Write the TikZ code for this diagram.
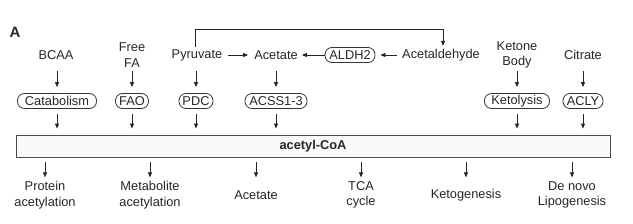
\documentclass[tikz,border=0pt]{standalone}
\usepackage{fontspec}
\setmainfont{Liberation Sans}
\usetikzlibrary{arrows.meta}
\begin{document}
\begin{tikzpicture}[x=1pt,y=-1pt,
  every node/.style={font=\fontsize{12.8}{15.5}\selectfont, inner sep=0pt, align=center, text=black!85},
  enz/.style={draw=black!80, line width=0.8pt, rounded corners=7pt, minimum height=15pt},
  arr/.style={draw=black!85, line width=0.8pt, -{Triangle[length=5pt,width=4pt]}},
  ln/.style={draw=black!85, line width=0.8pt}]
\useasboundingbox (0,0) rectangle (633,223);
\node[font=\fontsize{15}{16}\selectfont\bfseries] (A) at (15,32) {A};
% sources
\node (bcaa) at (56,55) {BCAA};
\node (ffa) at (132,55) {Free\\FA};
\node (pyr) at (197,55) {Pyruvate};
\node (ace) at (276,55) {Acetate};
\node[enz, minimum width=50pt] (aldh) at (350,55) {ALDH2};
\node (acald) at (441,55) {Acetaldehyde};
\node (ket) at (517,55) {Ketone\\Body};
\node (cit) at (583,55) {Citrate};
% enzymes
\node[enz, minimum width=79pt] (cat) at (57,101) {Catabolism};
\node[enz, minimum width=33pt] (fao) at (132,101) {FAO};
\node[enz, minimum width=34pt] (pdc) at (196,101) {PDC};
\node[enz, minimum width=62pt] (acss) at (276,101) {ACSS1-3};
\node[enz, minimum width=65pt] (ketl) at (517,101) {Ketolysis};
\node[enz, minimum width=40pt] (acly) at (583,101) {ACLY};
% acetyl-CoA
\node[draw=black!70, fill=black!2, line width=0.8pt, minimum width=594pt, minimum height=22pt, font=\fontsize{12.8}{15}\selectfont\bfseries] (coa) at (313,146) {acetyl-CoA};
% outputs
\node (prot) at (45,195) {Protein\\acetylation};
\node (meta) at (150,195) {Metabolite\\acetylation};
\node (aout) at (256,195) {Acetate};
\node (tca) at (361,195) {TCA\\cycle};
\node (ktg) at (466,195) {Ketogenesis};
\node (dnl) at (572,195) {De novo\\Lipogenesis};
% coordinates
\coordinate (c1) at (195,29);
\coordinate (c2) at (443,29);
% arrows top row
\draw[arr, shorten <=6pt, shorten >=6pt] (pyr.east) -- (ace.west);
\draw[arr, shorten <=5pt, shorten >=5pt] (acald.west) -- (aldh.east);
\draw[arr, shorten >=4pt] (aldh.west) -- (ace.east);
\draw[ln] ([yshift=2pt]pyr.north -| c1) -- (c1) -- (c2);
\draw[arr] (c2) -- ([yshift=3pt]acald.north -| c2);
% source to enzyme
\foreach \e in {cat,fao,pdc,acss,ketl,acly}{
  \draw[arr] ([yshift=22pt]\e.north) -- ([yshift=6pt]\e.north);
  \draw[arr] ([yshift=-5pt]\e.south) -- ([yshift=6pt]\e.south |- coa.north);
}
% coa to outputs
\foreach \o in {prot,meta,aout,tca,ktg,dnl}{
  \draw[arr] ([yshift=-5pt]coa.south -| \o) -- ++(0,15);
}
\end{tikzpicture}
\end{document}
